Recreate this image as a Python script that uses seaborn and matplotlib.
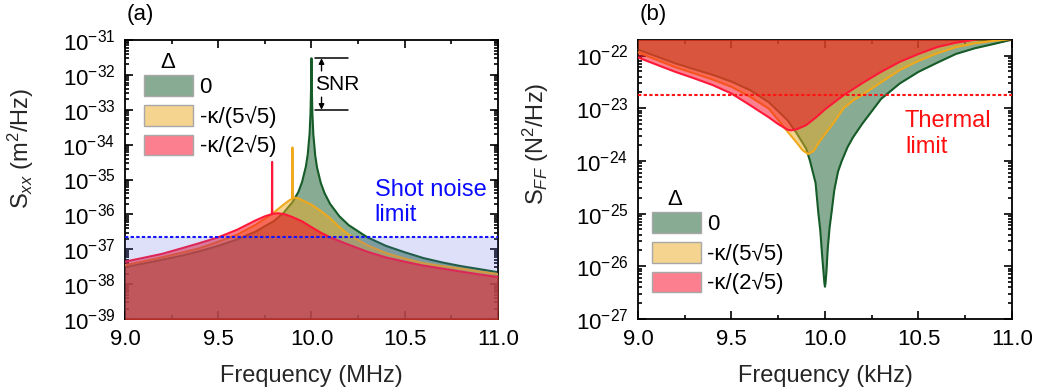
import numpy as np
import pandas as pd
import seaborn as sns
import matplotlib.pyplot as plt
from matplotlib.patches import Patch
from matplotlib.colors import to_rgba
from matplotlib.ticker import FixedLocator, NullFormatter, MultipleLocator

# =========================
# (a) displacement spectra, frequency in MHz
# =========================
freq_a_0 = [9.0, 9.1, 9.2, 9.3, 9.4, 9.5, 9.6, 9.7, 9.8, 9.85, 9.9, 9.93, 9.95, 9.97,
            9.98, 9.99, 9.995, 9.998, 9.999, 10.0, 10.001, 10.002, 10.005, 10.01, 10.02,
            10.03, 10.05, 10.07, 10.1, 10.15, 10.2, 10.3, 10.4, 10.5, 10.6, 10.7, 10.8,
            10.9, 11.0]
sxx_0 = [3.1e-38, 3.9e-38, 5.0e-38, 6.5e-38, 8.8e-38, 1.25e-37, 1.9e-37, 3.2e-37, 6.5e-37,
         1.1e-36, 2.3e-36, 4.4e-36, 8.6e-36, 2.35e-35, 5.2e-35, 2.05e-34, 8.1e-34, 4.4e-33,
         1.2e-32, 3.0e-32, 1.2e-32, 4.3e-33, 7.9e-34, 2.0e-34, 5.0e-35, 2.2e-35, 8.0e-36,
         4.1e-36, 2.0e-36, 8.8e-37, 4.9e-37, 2.2e-37, 1.25e-37, 8.2e-38, 5.6e-38, 4.2e-38,
         3.3e-38, 2.7e-38, 2.2e-38]

freq_a_1 = [9.0, 9.1, 9.2, 9.3, 9.4, 9.5, 9.6, 9.7, 9.75, 9.8, 9.85, 9.88, 9.897, 9.898,
            9.899, 9.91, 9.93, 9.96, 10.0, 10.05, 10.1, 10.15, 10.2, 10.3, 10.4, 10.5, 10.6,
            10.7, 10.8, 10.9, 11.0]
sxx_1 = [3.5e-38, 4.5e-38, 5.9e-38, 7.9e-38, 1.07e-37, 1.65e-37, 2.6e-37, 5.0e-37, 7.5e-37,
         1.15e-36, 1.9e-36, 2.5e-36, 2.8e-36, 8.3e-35, 2.85e-36, 3.0e-36, 2.9e-36, 2.4e-36,
         1.9e-36, 1.25e-36, 7.8e-37, 4.3e-37, 2.6e-37, 1.3e-37, 7.8e-38, 5.4e-38, 4.0e-38,
         3.3e-38, 2.8e-38, 2.3e-38, 1.95e-38]

freq_a_2 = [9.0, 9.1, 9.2, 9.3, 9.4, 9.5, 9.6, 9.7, 9.75, 9.788, 9.789, 9.79, 9.82, 9.86,
            9.9, 9.95, 10.0, 10.05, 10.1, 10.2, 10.3, 10.4, 10.5, 10.6, 10.7, 10.8, 10.9, 11.0]
sxx_2 = [4.4e-38, 5.7e-38, 7.4e-38, 1.05e-37, 1.5e-37, 2.2e-37, 3.6e-37, 6.7e-37, 8.8e-37,
         1.02e-36, 3.2e-35, 1.03e-36, 1.08e-36, 1.0e-36, 8.3e-37, 6.3e-37, 4.3e-37, 3.0e-37,
         2.2e-37, 1.35e-37, 8.5e-38, 5.8e-38, 4.4e-38, 3.4e-38, 2.8e-38, 2.3e-38, 1.9e-38,
         1.6e-38]

shot_noise = 2.26e-37
snr_bottom = 1e-33
decades_a = [-39, -38, -37, -36, -35, -34, -33, -32, -31]

# =========================
# (b) force spectra, frequency in kHz
# =========================
freq_b_0 = [9.0, 9.1, 9.2, 9.3, 9.4, 9.5, 9.6, 9.7, 9.8, 9.85, 9.9, 9.92, 9.95, 9.965,
            9.975, 9.985, 9.992, 9.997, 10.0, 10.003, 10.008, 10.015, 10.025, 10.036,
            10.05, 10.07, 10.09, 10.12, 10.15, 10.2, 10.3, 10.4, 10.5, 10.6, 10.7, 10.8,
            10.9, 11.0]
sff_0 = [1.3e-22, 9.6e-23, 7.1e-23, 5.5e-23, 4.3e-23, 3.2e-23, 2.2e-23, 1.3e-23, 5.9e-24,
         3.3e-24, 1.7e-24, 1.0e-24, 3.8e-25, 1.0e-25, 4.8e-26, 1.6e-26, 8e-27, 4.8e-27,
         4.1e-27, 4.8e-27, 8e-27, 2.2e-26, 5.5e-26, 1.1e-25, 2.8e-25, 6.3e-25, 1.0e-24,
         1.8e-24, 2.8e-24, 5.1e-24, 1.5e-23, 2.95e-23, 4.9e-23, 7.3e-23, 1.07e-22,
         1.37e-22, 1.65e-22, 2.0e-22]

freq_b_1 = [9.0, 9.1, 9.2, 9.3, 9.4, 9.5, 9.6, 9.7, 9.75, 9.8, 9.85, 9.88, 9.91, 9.94,
            9.97, 10.0, 10.05, 10.1, 10.15, 10.2, 10.3, 10.4, 10.5, 10.6, 10.7, 10.8, 10.9,
            11.0]
sff_1 = [1.15e-22, 8.3e-23, 6.0e-23, 4.6e-23, 3.5e-23, 2.55e-23, 1.65e-23, 9.8e-24, 6.0e-24,
         3.6e-24, 2.2e-24, 1.6e-24, 1.35e-24, 1.55e-24, 2.3e-24, 3.2e-24, 5.5e-24, 1.0e-23,
         1.4e-23, 1.8e-23, 3.1e-23, 5.3e-23, 7.9e-23, 1.1e-22, 1.44e-22, 1.7e-22, 1.9e-22,
         2.05e-22]

freq_b_2 = [9.0, 9.1, 9.2, 9.3, 9.4, 9.5, 9.6, 9.7, 9.75, 9.8, 9.82, 9.85, 9.9, 9.95, 10.0,
            10.05, 10.1, 10.2, 10.3, 10.4, 10.5, 10.6, 10.7, 10.8, 10.9, 11.0]
sff_2 = [9.2e-23, 6.7e-23, 4.9e-23, 3.7e-23, 2.75e-23, 1.9e-23, 1.14e-23, 6.7e-24, 5.0e-24,
         3.9e-24, 3.8e-24, 4.0e-24, 4.8e-24, 6.6e-24, 9.5e-24, 1.3e-23, 1.77e-23, 3.0e-23,
         4.9e-23, 7.6e-23, 1.07e-22, 1.45e-22, 1.75e-22, 2.0e-22, 2.3e-22, 2.6e-22]

thermal_limit = 1.78e-23
decades_b = [-27, -26, -25, -24, -23, -22]

detuning_labels = ["0", "-κ/(5√5)", "-κ/(2√5)"]
fill_colors = ["#12582a", "#ebab21", "#fb0121"]
line_colors = ["#165c28", "#f0a81c", "#ff1838"]

# =========================
# style
# =========================
sns.set_theme(style="ticks")
plt.rcParams["font.family"] = ["Liberation Sans", "DejaVu Sans"]
plt.rcParams["mathtext.fontset"] = "custom"
plt.rcParams["mathtext.rm"] = "Liberation Sans"
plt.rcParams["mathtext.it"] = "Liberation Sans:italic"
plt.rcParams["mathtext.bf"] = "Liberation Sans:bold"
plt.rcParams["axes.edgecolor"] = "black"
plt.rcParams["text.color"] = "black"

fig = plt.figure(figsize=(10.38, 3.92), dpi=100)
ax1 = fig.add_axes([0.1204, 0.1862, 0.3593, 0.7117])
ax2 = fig.add_axes([0.6146, 0.1862, 0.3603, 0.7117])


def draw_spectra(ax, curves, base):
    ax.set_yscale("log")
    for i, (f, s) in enumerate(curves):
        ax.fill_between(f, s, base, color=fill_colors[i], alpha=0.5, lw=0, zorder=1 + 2 * i)
        sns.lineplot(x=f, y=s, ax=ax, color=line_colors[i], lw=1.5,
                     estimator=None, sort=False, zorder=2 + 2 * i)


def style_axes(ax, decades, ylim):
    ax.set_xlim(9.0, 11.0)
    ax.set_ylim(*ylim)
    ax.xaxis.set_major_locator(MultipleLocator(0.5))
    ax.xaxis.set_minor_locator(MultipleLocator(0.25))
    major = [10.0 ** d for d in decades]
    minor = [m * 10.0 ** d for d in range(decades[0] - 1, decades[-1] + 1)
             for m in range(2, 10) if ylim[0] < m * 10.0 ** d < ylim[1]]
    ax.yaxis.set_major_locator(FixedLocator(major))
    ax.yaxis.set_minor_locator(FixedLocator(minor))
    ax.yaxis.set_minor_formatter(NullFormatter())
    ax.tick_params(which="both", direction="in", top=True, right=True, width=1.2,
                   color="black", labelcolor="black")
    ax.tick_params(which="major", length=6, labelsize=16, pad=7)
    ax.tick_params(which="minor", length=3)
    for sp in ax.spines.values():
        sp.set_linewidth(1.3)
        sp.set_color("black")


# ---- panel (a)
draw_spectra(ax1, [(freq_a_0, sxx_0), (freq_a_1, sxx_1), (freq_a_2, sxx_2)], 1e-40)
ax1.axhspan(1e-40, shot_noise, color="#5564dc", alpha=0.2, lw=0, zorder=7)
ax1.axhline(shot_noise, color="#1414ff", lw=1.5, ls=(0, (1.6, 1.1)), zorder=8)
style_axes(ax1, decades_a, (1e-39, 1e-31))

snr_top = max(sxx_0)
ax1.plot([10.018, 10.196], [snr_top, snr_top], color="black", lw=1.1, zorder=9)
ax1.plot([10.018, 10.196], [snr_bottom, snr_bottom], color="black", lw=1.1, zorder=9)
ax1.annotate("", xy=(10.054, snr_top), xytext=(10.054, 1.3e-32),
             arrowprops=dict(arrowstyle="-|>", color="black", lw=1, mutation_scale=8,
                             shrinkA=0, shrinkB=0), zorder=9)
ax1.annotate("", xy=(10.054, snr_bottom), xytext=(10.054, 2.3e-33),
             arrowprops=dict(arrowstyle="-|>", color="black", lw=1, mutation_scale=8,
                             shrinkA=0, shrinkB=0), zorder=9)
ax1.text(10.138, 5.2e-33, "SNR", fontsize=15, ha="center", va="center")
ax1.text(0.670, 0.418, "Shot noise\nlimit", transform=ax1.transAxes, color="#0a0aff",
         fontsize=17, ha="left", va="center")

ax1.set_xlabel("Frequency (MHz)", fontsize=17)
ax1.set_ylabel("S$_{xx}$ (m$^2$/Hz)", fontsize=17)
ax1.xaxis.set_label_coords(0.5, -0.165)
ax1.yaxis.set_label_coords(-0.239, 0.613)

# ---- panel (b)
draw_spectra(ax2, [(freq_b_0, sff_0), (freq_b_1, sff_1), (freq_b_2, sff_2)], 1e-21)
ax2.axhline(thermal_limit, color="#ff1414", lw=1.5, ls=(0, (1.6, 1.1)), zorder=8)
style_axes(ax2, decades_b, (1e-27, 1.97e-22))
ax2.text(0.714, 0.663, "Thermal\nlimit", transform=ax2.transAxes, color="#ff1010",
         fontsize=17, ha="left", va="center")

ax2.set_xlabel("Frequency (kHz)", fontsize=17)
ax2.set_ylabel("S$_{FF}$ (N$^2$/Hz)", fontsize=17)
ax2.xaxis.set_label_coords(0.5, -0.165)
ax2.yaxis.set_label_coords(-0.233, 0.629)

# ---- legends
handles = [Patch(facecolor=to_rgba(c, 0.5), edgecolor="#a8a8a8", lw=1) for c in fill_colors]
for ax, anchor, title_pos in [(ax1, (0.051, 0.873), (0.115, 0.921)),
                              (ax2, (0.037, 0.382), (0.099, 0.427))]:
    ax.legend(handles, detuning_labels, loc="upper left", bbox_to_anchor=anchor,
              frameon=False, fontsize=16, handlelength=2.2, handleheight=1.05,
              labelspacing=0.3, handletextpad=0.3, borderpad=0, borderaxespad=0)
    ax.text(title_pos[0], title_pos[1], "Δ", transform=ax.transAxes, fontsize=16,
            ha="center", va="center")

fig.text(0.135, 0.962, "(a)", fontsize=16, ha="center", va="center")
fig.text(0.629, 0.962, "(b)", fontsize=16, ha="center", va="center")

fig.savefig("out.png", dpi=100)
